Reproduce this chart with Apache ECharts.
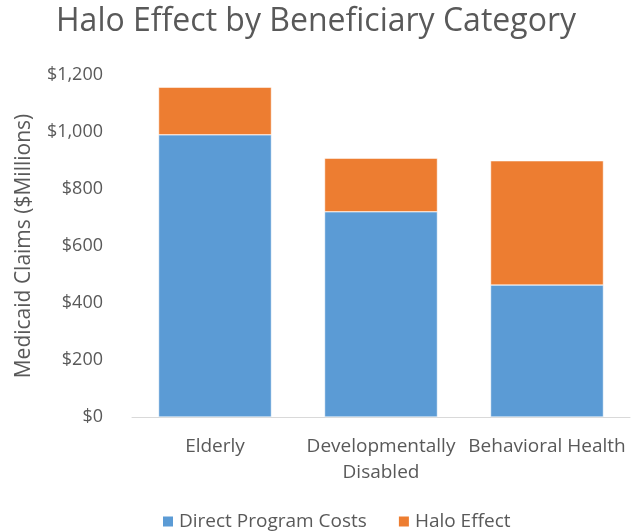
<!DOCTYPE html>
<html>
<head>
<meta charset="utf-8">
<script src="https://cdn.jsdelivr.net/npm/echarts@6/dist/echarts.min.js"></script>
<style>
  html, body { margin: 0; padding: 0; background: #fff; }
  #chart { width: 632px; height: 531px; }
</style>
</head>
<body>
<div id="chart"></div>
<script>
const categories = ['Elderly', 'Developmentally\nDisabled', 'Behavioral Health'];
const directCosts = [990, 720, 463];
const haloEffect = [167, 188, 436];
const yTicks = [0, 200, 400, 600, 800, 1000, 1200];

const font = 'Open Sans';
const grey = '#595959';

const chart = echarts.init(document.getElementById('chart'));
chart.setOption({
  animation: false,
  textStyle: { fontFamily: font },
  title: {
    text: 'Halo Effect by Beneficiary Category',
    left: 'center',
    top: 1,
    textStyle: { fontFamily: font, fontSize: 32, fontWeight: 'normal', color: grey }
  },
  legend: {
    top: 507,
    left: 156,
    itemWidth: 12,
    itemHeight: 12,
    itemGap: 30,
    icon: 'rect',
    textStyle: { fontFamily: font, fontSize: 19, color: grey },
    data: ['Direct Program Costs', 'Halo Effect']
  },
  grid: { left: 132, right: 2, top: 75, bottom: 114 },
  xAxis: {
    type: 'category',
    data: categories,
    axisLine: { lineStyle: { color: '#d9d9d9', width: 1 } },
    axisTick: { show: false },
    axisLabel: { fontFamily: font, fontSize: 19, color: grey, margin: 17, lineHeight: 26, interval: 0 }
  },
  yAxis: {
    type: 'value',
    min: yTicks[0],
    max: yTicks[yTicks.length - 1],
    interval: 200,
    name: 'Medicaid Claims ($Millions)',
    nameLocation: 'middle',
    nameGap: 97,
    nameTextStyle: { fontFamily: font, fontSize: 21, color: grey },
    axisLine: { show: false },
    axisTick: { show: false },
    splitLine: { show: false },
    axisLabel: {
      fontFamily: font, fontSize: 18, color: grey, margin: 29,
      formatter: v => '$' + v.toLocaleString('en-US')
    }
  },
  series: [
    {
      name: 'Direct Program Costs',
      type: 'bar',
      stack: 'total',
      barCategoryGap: '32%',
      itemStyle: { color: '#5B9BD5', borderColor: '#fff', borderWidth: 0.5 },
      data: directCosts
    },
    {
      name: 'Halo Effect',
      type: 'bar',
      stack: 'total',
      barCategoryGap: '32%',
      itemStyle: { color: '#ED7D31', borderColor: '#fff', borderWidth: 0.5 },
      data: haloEffect
    }
  ]
});
</script>
</body>
</html>
